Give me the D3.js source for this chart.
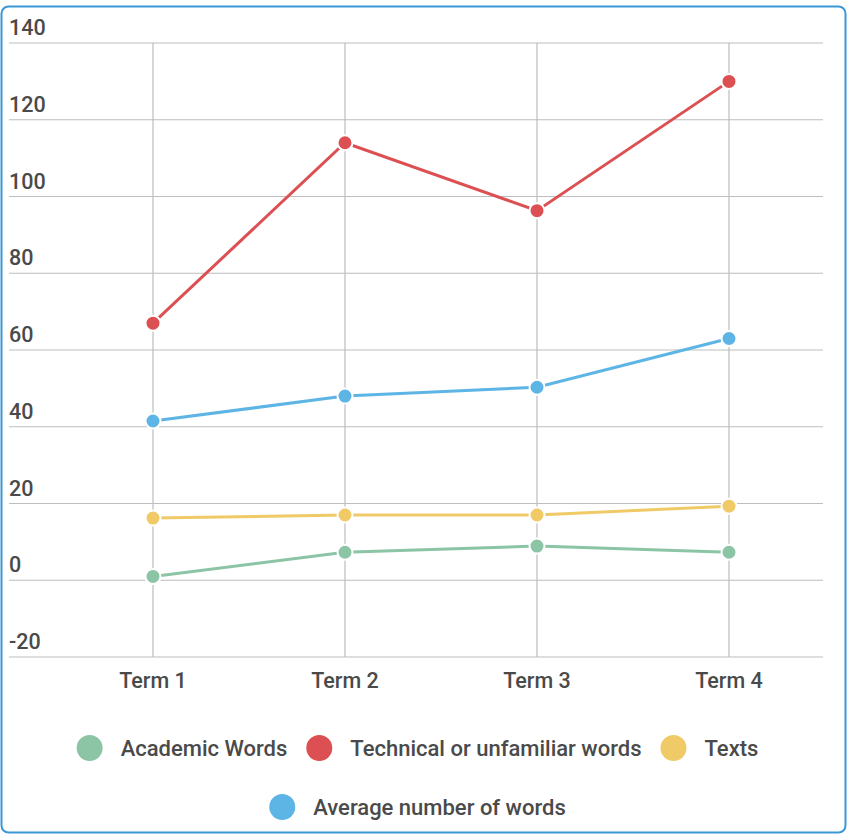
<!DOCTYPE html>
<html>
<head>
<meta charset="utf-8">
<script src="https://cdn.jsdelivr.net/npm/d3@7"></script>
<style>
  body { margin: 0; background: #fff; font-family: Roboto, "Noto Sans", sans-serif; }
  text { font-weight: 500; }
</style>
</head>
<body>
<svg id="chart" width="847" height="834"></svg>
<script>
// ---- data ----
var terms = ["Term 1", "Term 2", "Term 3", "Term 4"];
var academic = [1, 7.3, 8.9, 7.3];
var technical = [67, 114, 96.3, 130];
var texts = [16.2, 17, 17, 19.3];
var average = [41.5, 48, 50.3, 63];
var yTicks = [-20, 0, 20, 40, 60, 80, 100, 120, 140];

var seriesNames = ["Academic Words", "Technical or unfamiliar words", "Texts", "Average number of words"];
var seriesColors = ["#8cc4a6", "#dc5053", "#f0ca67", "#5db5e5"];
var seriesData = [academic, technical, texts, average];

var svg = d3.select("#chart");

// frame
svg.append("rect")
	.attr("x", 1.5).attr("y", 6.5)
	.attr("width", 844).attr("height", 826)
	.attr("rx", 7)
	.attr("fill", "#fff")
	.attr("stroke", "#3a98d6")
	.attr("stroke-width", 2);

var x = d3.scalePoint().domain(terms).range([153, 729]);
var y = d3.scaleLinear().domain([-20, 140]).range([657, 43]);
var gridLeft = 9, gridRight = 823;

// horizontal grid + labels
var grid = svg.append("g");
grid.selectAll("line.h").data(yTicks).enter().append("line")
	.attr("class", "h")
	.attr("x1", gridLeft).attr("x2", gridRight)
	.attr("y1", function(d){ return y(d); })
	.attr("y2", function(d){ return y(d); })
	.attr("stroke", "#bdbdbd").attr("stroke-width", 1.2);

grid.selectAll("text.ylab").data(yTicks).enter().append("text")
	.attr("class", "ylab")
	.attr("x", 9)
	.attr("y", function(d){ return y(d) - 8; })
	.attr("font-size", 21.5)
	.attr("fill", "#4a4a4a")
	.text(function(d){ return d; });

// vertical grid
grid.selectAll("line.v").data(terms).enter().append("line")
	.attr("class", "v")
	.attr("x1", function(d){ return x(d); })
	.attr("x2", function(d){ return x(d); })
	.attr("y1", y(140)).attr("y2", y(-20))
	.attr("stroke", "#bdbdbd").attr("stroke-width", 1.2);

// x axis labels
grid.selectAll("text.xlab").data(terms).enter().append("text")
	.attr("class", "xlab")
	.attr("x", function(d){ return x(d); })
	.attr("y", 688)
	.attr("text-anchor", "middle")
	.attr("font-size", 21.5)
	.attr("fill", "#4a4a4a")
	.text(function(d){ return d; });

// lines
var line = d3.line()
	.x(function(d, i){ return x(terms[i]); })
	.y(function(d){ return y(d); });

seriesData.forEach(function(vals, s){
	var g = svg.append("g");
	g.append("path")
		.attr("d", line(vals))
		.attr("fill", "none")
		.attr("stroke", seriesColors[s])
		.attr("stroke-width", 3);
	g.selectAll("circle").data(vals).enter().append("circle")
		.attr("cx", function(d, i){ return x(terms[i]); })
		.attr("cy", function(d){ return y(d); })
		.attr("r", 7.5)
		.attr("fill", seriesColors[s])
		.attr("stroke", "#fff")
		.attr("stroke-width", 2);
});

// legend
var rows = [[0, 1, 2], [3]];
var rowY = [748, 807];
var centerX = 417.5;
rows.forEach(function(row, r){
	var lg = svg.append("g");
	var cursor = 0;
	row.forEach(function(s, k){
		var item = lg.append("g");
		item.append("circle")
			.attr("cx", cursor + 13).attr("cy", 0).attr("r", 13)
			.attr("fill", seriesColors[s]);
		var t = item.append("text")
			.attr("x", cursor + 44).attr("y", 8)
			.attr("font-size", 22)
			.attr("fill", "#4a4a4a")
			.text(seriesNames[s]);
		cursor += 44 + t.node().getComputedTextLength() + 19;
	});
	var total = cursor - 19;
	lg.attr("transform", "translate(" + (centerX - total / 2) + "," + rowY[r] + ")");
});
</script>
</body>
</html>
